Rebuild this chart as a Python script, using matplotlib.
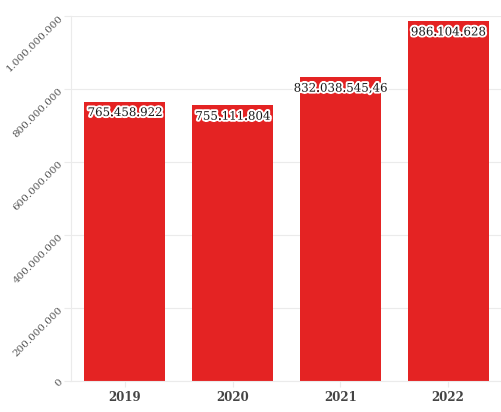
import matplotlib.pyplot as plt
import matplotlib.patheffects as pe
from matplotlib.ticker import FuncFormatter

years = ["2019", "2020", "2021", "2022"]
values = [765458922, 755111804, 832038545.46, 986104628]
labels = ["765.458.922", "755.111.804", "832.038.545,46", "986.104.628"]

plt.rcParams['font.family'] = ['DejaVu Serif']

fig = plt.figure(figsize=(5.02, 4.12), dpi=100)
ax = fig.add_axes([71 / 502, 31 / 412, 431 / 502, 365 / 412])

x = range(len(years))
ax.bar(x, values, width=0.75, color="#e42323", zorder=2)

for i, v in enumerate(values):
    t = ax.text(i, v - 0.012e9, labels[i], ha="center", va="top", fontsize=8.5,
                color="#1a1a1a", zorder=3)
    t.set_path_effects([pe.withStroke(linewidth=2.8, foreground="white")])

ax.set_xlim(-0.5, 3.5)
ax.set_ylim(0, 1e9)
ax.set_yticks([0, 2e8, 4e8, 6e8, 8e8, 1e9])
ax.yaxis.set_major_formatter(FuncFormatter(lambda v, p: f"{int(v):,}".replace(",", ".")))
ax.set_xticks(list(x))
ax.set_xticklabels(years, fontsize=8.5, color="#444444", fontweight="bold")

for lbl in ax.get_yticklabels():
    lbl.set_rotation(45)
    lbl.set_fontsize(7.5)
    lbl.set_color("#555555")
    lbl.set_ha("right")
    lbl.set_va("center")
    lbl.set_rotation_mode("anchor")

ax.grid(axis="y", color="#ebebeb", linewidth=0.8, zorder=0)
for s in ["top", "right"]:
    ax.spines[s].set_visible(False)
ax.spines["left"].set_color("#ebebeb")
ax.spines["bottom"].set_color("#ebebeb")
ax.tick_params(axis="y", length=5, color="#ebebeb", pad=2)
ax.tick_params(axis="x", length=4, color="#ebebeb", pad=3)

fig.savefig("out.png", dpi=100)
